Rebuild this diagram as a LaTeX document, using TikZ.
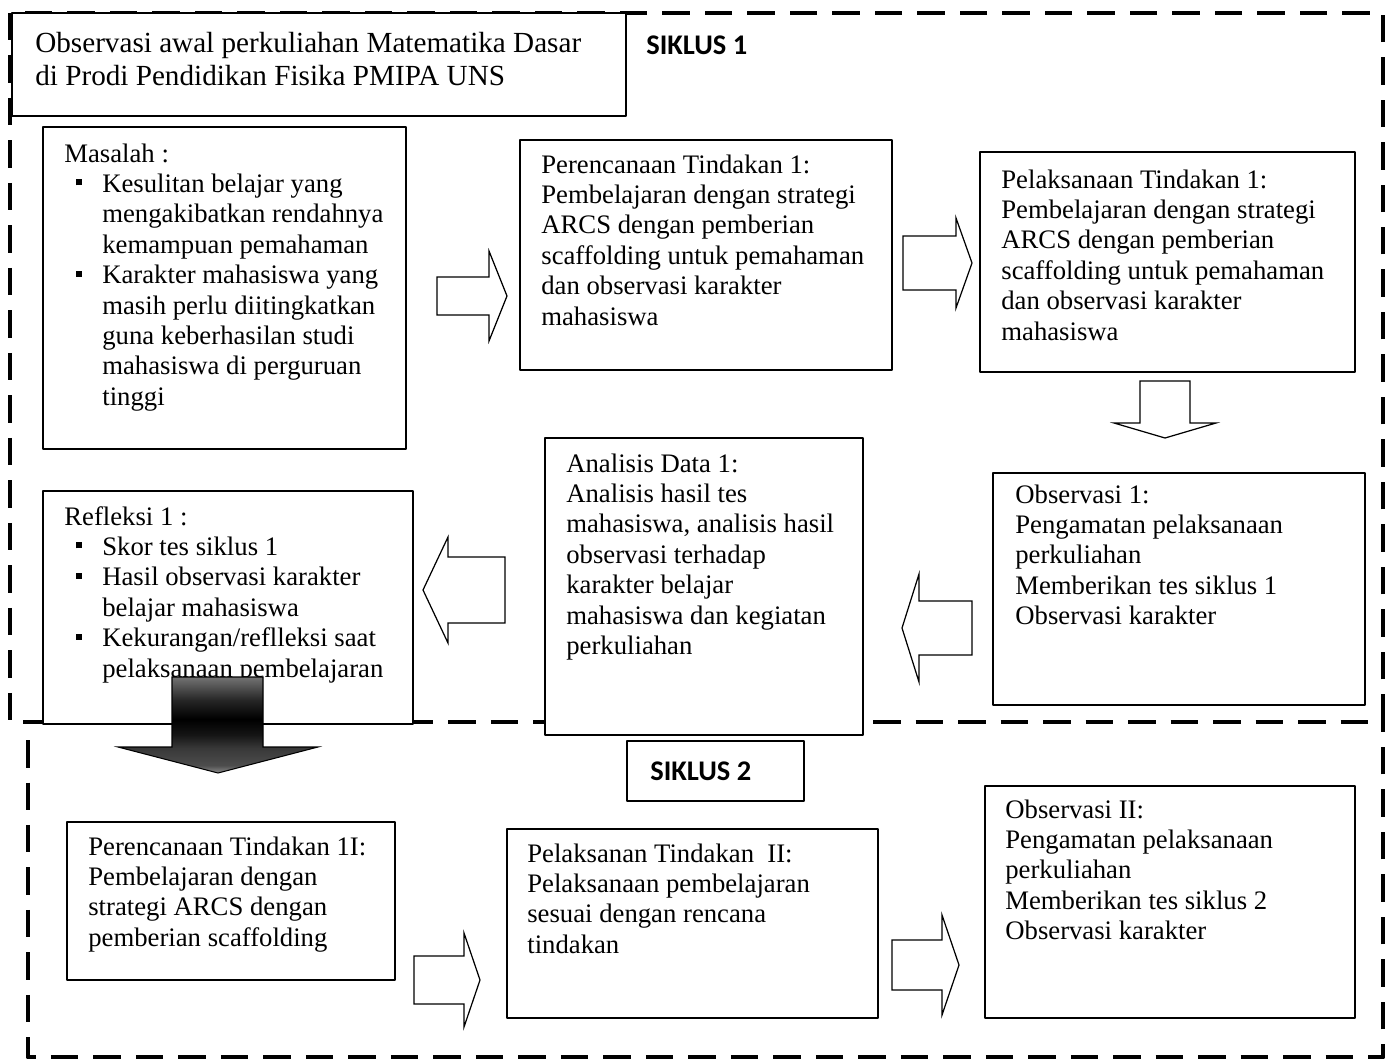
\documentclass[tikz,border=0pt]{standalone}
\usepackage{fontspec}
\setmainfont{Liberation Serif}
\newfontfamily\judulfont{Carlito}
\usetikzlibrary{fit}
\pgfdeclareverticalshading{gelap}{100bp}{color(0bp)=(black!45); color(25bp)=(black!45); color(29bp)=(black!70); color(38bp)=(black!78); color(45bp)=(black!92); color(53bp)=(black); color(63bp)=(black!85); color(75bp)=(black!55); color(100bp)=(black!55)}
\newcommand{\butir}{\makebox[0.76cm][l]{\hspace{0.24cm}\rule[0.14cm]{0.12cm}{0.12cm}}}
\newcommand{\lanjut}{\hspace*{0.76cm}}
\tikzset{
	kotak/.style={draw, line width=0.8pt, fill=white, inner sep=0pt},
	teks/.style={anchor=north west, align=left, inner sep=0pt, font=\fontsize{15.2}{17.3}\selectfont},
	panah/.style={draw, line width=0.7pt, fill=white, line join=miter},
	siklus/.style={line width=2.8pt, dash pattern=on 0.55cm off 0.3cm},
	label/.style={inner sep=0pt, font=\judulfont\bfseries\fontsize{16.2}{19}\selectfont}
}
\begin{document}
\begin{tikzpicture}[x=0.02cm, y=-0.02cm, line join=round]
	\useasboundingbox (0,0) rectangle (1391,1061);
	\draw[siklus] (10,13) rectangle (1383,722);
	\draw[siklus] (28,740) -- (28,1057) -- (1383,1057) -- (1383,722);
	\node[kotak, fit={(12,13)(626,116)}] (judul) {};
	\node[kotak, fit={(43,127)(406,449)}] (masalah) {};
	\node[kotak, fit={(520,140)(892,370)}] (rencana1) {};
	\node[kotak, fit={(980,152)(1355,372)}] (laksana1) {};
	\node[kotak, fit={(993,473)(1365,705)}] (obs1) {};
	\node[kotak, fit={(545,438)(863,735)}] (analisis) {};
	\node[kotak, fit={(43,491)(413,724)}] (refleksi) {};
	\node[kotak, fit={(627,741)(804,801)}] (siklusdua) {};
	\node[kotak, fit={(67,822)(395,980)}] (rencana2) {};
	\node[kotak, fit={(507,829)(878,1018)}] (laksana2) {};
	\node[kotak, fit={(985,786)(1355,1018)}] (obs2) {};
	\node[teks, font=\fontsize{16.6}{18.8}\selectfont] (judul-t) at (35,29) {\strut Observasi awal perkuliahan Matematika Dasar\\di Prodi Pendidikan Fisika PMIPA UNS};
	\node[label, anchor=west] (siklus1-t) at (646,45) {SIKLUS 1};
	\node[label, anchor=west] (siklus2-t) at (650,771) {SIKLUS 2};
	\node[teks] (masalah-t) at (64,140.4) {\strut Masalah :\\
		\butir Kesulitan belajar yang\\ \lanjut mengakibatkan rendahnya\\ \lanjut kemampuan pemahaman\\
		\butir Karakter mahasiswa yang\\ \lanjut masih perlu diitingkatkan\\ \lanjut guna keberhasilan studi\\ \lanjut mahasiswa di perguruan\\ \lanjut tinggi};
	\node[teks] (rencana1-t) at (541,151.4) {\strut Perencanaan Tindakan 1:\\Pembelajaran dengan strategi\\ARCS dengan pemberian\\scaffolding untuk pemahaman\\dan observasi karakter\\mahasiswa};
	\node[teks] (laksana1-t) at (1001,166.4) {\strut Pelaksanaan Tindakan 1:\\Pembelajaran dengan strategi\\ARCS dengan pemberian\\scaffolding untuk pemahaman\\dan observasi karakter\\mahasiswa};
	\node[teks] (obs1-t) at (1015,481.4) {\strut Observasi 1:\\Pengamatan pelaksanaan\\perkuliahan\\Memberikan tes siklus 1\\Observasi karakter};
	\node[teks] (analisis-t) at (566,450.4) {\strut Analisis Data 1:\\Analisis hasil tes\\mahasiswa, analisis hasil\\observasi terhadap\\karakter belajar\\mahasiswa dan kegiatan\\perkuliahan};
	\node[teks] (refleksi-t) at (64,503.4) {\strut Refleksi 1 :\\
		\butir Skor tes siklus 1\\ \butir Hasil observasi karakter\\ \lanjut belajar mahasiswa\\
		\butir Kekurangan/reflleksi saat\\ \lanjut pelaksanaan pembelajaran};
	\node[teks] (rencana2-t) at (88,833.4) {\strut Perencanaan Tindakan 1I:\\Pembelajaran dengan\\strategi ARCS dengan\\pemberian scaffolding};
	\node[teks] (laksana2-t) at (527,840.4) {\strut Pelaksanan Tindakan\ \ II:\\Pelaksanaan pembelajaran\\sesuai dengan rencana\\tindakan};
	\node[teks] (obs2-t) at (1005,796.4) {\strut Observasi II:\\Pengamatan pelaksanaan\\perkuliahan\\Memberikan tes siklus 2\\Observasi karakter};
	\foreach \x/\y/\r/\L/\hl/\hh/\hs in {507/296/0/70/18/45/19, 972/263/0/69/16/45/27, 1165/438/-90/57/15/51/25,
		902/628/180/70/17/54/27, 423/590/180/82/25/53/33, 480/980/0/66/16/47/24, 959/965/0/67/17/50/25}
	\draw[panah, shift={(\x,\y)}, rotate=\r] (0,0) -- (-\hl,\hh) -- (-\hl,\hs) -- (-\L,\hs) -- (-\L,-\hs) -- (-\hl,-\hs) -- (-\hl,-\hh) -- cycle;
	\path[draw=black, line width=0.6pt, line join=miter, shading=gelap] (172,677) -- (263,677) -- (263,747) -- (318,747) -- (218,773) -- (118,747) -- (172,747) -- cycle;
\end{tikzpicture}
\end{document}
